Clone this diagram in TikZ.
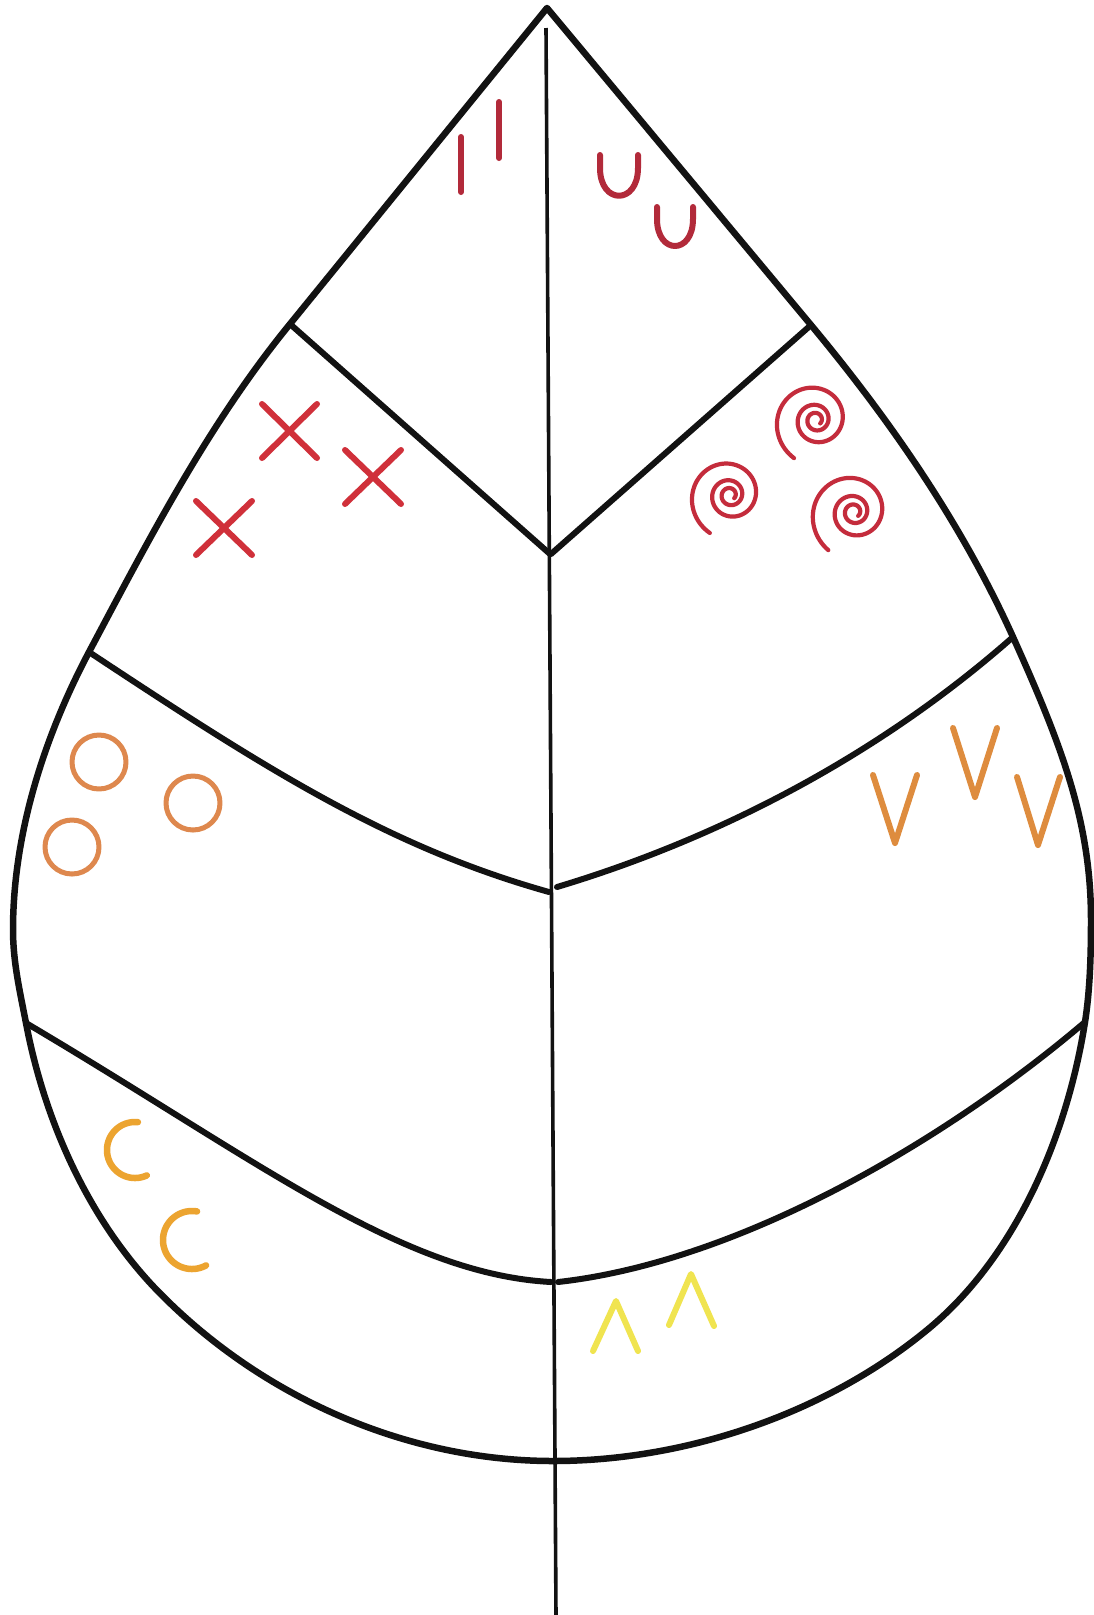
\documentclass[tikz,border=0pt]{standalone}
\definecolor{ink}{RGB}{18,18,18}
\definecolor{wine}{RGB}{178,42,58}
\definecolor{redx}{RGB}{208,48,58}
\definecolor{spiralred}{RGB}{196,44,60}
\definecolor{ringorange}{RGB}{222,136,78}
\definecolor{vorange}{RGB}{222,140,62}
\definecolor{cgold}{RGB}{236,164,48}
\definecolor{caretyellow}{RGB}{240,228,80}
\tikzset{
  outline/.style={draw=ink, line width=6.5pt, line join=round, line cap=round},
  vein/.style={draw=ink, line width=6pt, line cap=round},
  midrib/.style={draw=ink, line width=3.6pt},
  sym/.style={line width=6pt, line cap=round, line join=round},
  spiralline/.style={line width=4.2pt, line cap=round, draw=spiralred}
}
\begin{document}
\begin{tikzpicture}[x=1pt,y=-1pt]
\useasboundingbox (0,0) rectangle (1093,1615);
\fill[white] (0,0) rectangle (1093,1615);

% key points
\coordinate (tip) at (547,8);
\coordinate (L1) at (290,324);
\coordinate (R1) at (811,325);
\coordinate (L2) at (89,652);
\coordinate (R2) at (1013,637);
\coordinate (L3) at (26,1023);
\coordinate (R3) at (1085,1022);
\coordinate (Lw) at (13,930);
\coordinate (Rw) at (1091,920);
\coordinate (Lb) at (152,1285);
\coordinate (Rb) at (927,1330);
\coordinate (bot) at (553,1461);

% midrib
\draw[midrib] (546,28) -- (556,1616);

% leaf outline
\draw[outline] (bot)
  .. controls (403,1461) and (255,1394) .. (Lb)
  .. controls (86,1214) and (44,1118) .. (L3)
  .. controls (20,992) and (13,962) .. (Lw)
  .. controls (13,834) and (44,737) .. (L2)
  .. controls (149,539) and (209,423) .. (L1)
  -- (tip) -- (R1)
  .. controls (890,420) and (962,524) .. (R2)
  .. controls (1062,746) and (1091,822) .. (Rw)
  .. controls (1091,955) and (1090,990) .. (R3)
  .. controls (1067,1136) and (1016,1257) .. (Rb)
  .. controls (825,1414) and (685,1461) .. (bot);

% top chevron
\draw[vein] (L1) -- (550,554);
\draw[vein] (R1) -- (551,554);

% second veins
\draw[vein] (L2) .. controls (269,771) and (389,847) .. (549,892);
\draw[vein] (R2) .. controls (885,750) and (727,836) .. (557,887);

% third veins
\draw[vein] (L3) .. controls (256,1159) and (401,1274) .. (551,1282);
\draw[vein] (R3) .. controls (944,1142) and (738,1262) .. (558,1282);

% tick marks
\draw[sym, wine] (461,137) -- (461,192);
\draw[sym, wine] (499,102) -- (499,158);

% U shapes
\draw[sym, wine] (600,155) -- (600,168) .. controls (600,205) and (638,205) .. (638,168) -- (638,155);
\draw[sym, wine] (657,207) -- (657,219) .. controls (657,255) and (693,255) .. (693,219) -- (693,207);

% crosses
\draw[sym, redx] (262,404) -- (317,458) (317,404) -- (262,458);
\draw[sym, redx] (345,450) -- (401,504) (401,450) -- (345,504);
\draw[sym, redx] (196,501) -- (252,555) (252,501) -- (196,555);

% spirals
\draw[spiralline] plot[domain=0:1, samples=240, smooth] ({816+44*exp(-2.1*\x)*cos(120+1000*\x)}, {420+44*exp(-2.1*\x)*sin(120+1000*\x)});
\draw[spiralline] plot[domain=0:1, samples=240, smooth] ({730+43*exp(-2.1*\x)*cos(118+1000*\x)}, {495+43*exp(-2.1*\x)*sin(118+1000*\x)});
\draw[spiralline] plot[domain=0:1, samples=240, smooth] ({854+46*exp(-2.1*\x)*cos(124+1000*\x)}, {512+46*exp(-2.1*\x)*sin(124+1000*\x)});

% rings
\draw[sym, ringorange, line width=5pt] (99,762) circle[radius=27];
\draw[sym, ringorange, line width=5pt] (193,803) circle[radius=27];
\draw[sym, ringorange, line width=5pt] (72,847) circle[radius=27];

% V shapes
\draw[sym, vorange] (873,775) -- (895,843) -- (917,775);
\draw[sym, vorange] (953,728) -- (975,797) -- (997,728);
\draw[sym, vorange] (1017,777) -- (1038,845) -- (1060,777);

% C shapes
\draw[sym, cgold, line width=6.5pt] plot[domain=65:276, samples=60, smooth] ({135+28*cos(\x)}, {1150+28*sin(\x)});
\draw[sym, cgold, line width=6.5pt] plot[domain=61:280, samples=60, smooth] ({192+29*cos(\x)}, {1240+29*sin(\x)});

% carets
\draw[sym, caretyellow] (593,1351) -- (616,1301) -- (638,1351);
\draw[sym, caretyellow] (669,1325) -- (691,1274) -- (714,1326);
\end{tikzpicture}
\end{document}
